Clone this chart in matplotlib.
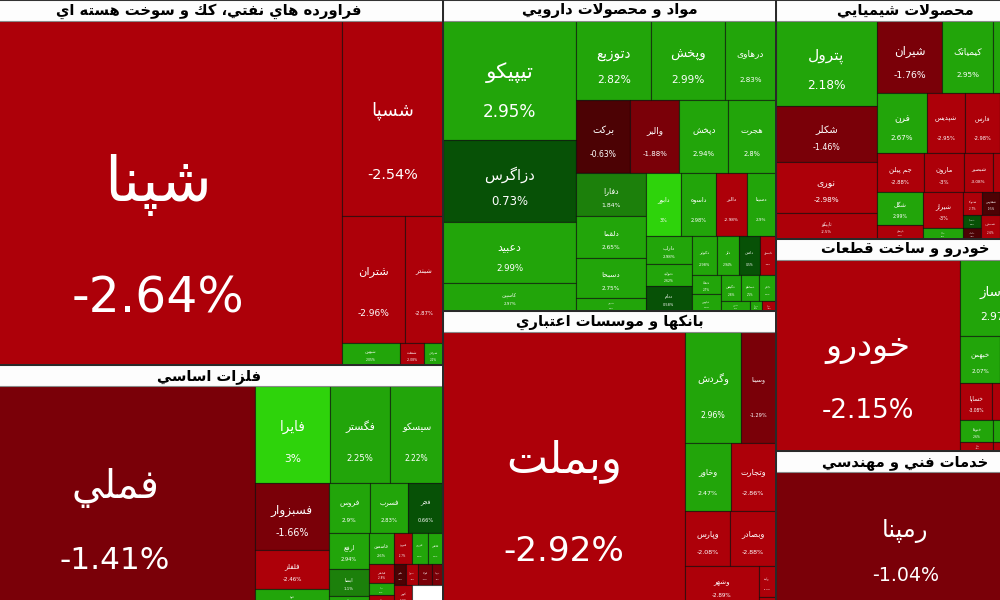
import matplotlib
matplotlib.use("Agg")
import matplotlib.pyplot as plt
from matplotlib.patches import Rectangle

# ---- data: one block per sector (names, size weights, % change, nesting of the tiles)
oil_title = 'فراورده هاي نفتي، كك و سوخت هسته اي'
oil_names = ['شپنا', 'شسپا', 'شتران', 'شبندر', 'شبهرن', 'شنفت', 'شرانل']
oil_sizes = [125.9, 19.7, 8.0, 4.83, 1.28, 0.53, 0.42]
oil_change = [-2.64, -2.54, -2.96, -2.87, 2.05, -2.08, 2.10]
oil_tree = ('h', [0, ('v', [1, ('h', [2, 3]), ('h', [4, 5, 6])])])

metal_title = 'فلزات اساسي'
metal_names = ['فملي', 'فايرا', 'فگستر', 'سیسکو', 'فسبزوار', 'فلفلز', 'فوبا', 'فروس',
               'فسرب', 'فجر', 'ارفع', 'ابسا', 'فنوال', 'فاسمین', 'فنورد', 'فزرین',
               'فخاس', 'فباهنر', 'فپنتا', 'فکا', 'فلامی', 'فجهان', 'فولاد', 'فتوسا',
               'کویر', '']
metal_sizes = [61.3, 7.2, 5.76, 5.09, 4.96, 2.89, 1.26, 2.05, 1.9, 1.75, 1.44, 1.08, 0.4,
               0.78, 0.56, 0.5, 0.47, 0.48, 0.3, 0.275, 0.25, 0.25, 0.29, 0.23, 0.38, 0.65]
metal_change = [-1.41, 3.0, 2.25, 2.22, -1.66, -2.46, 2.1, 2.9, 2.83, 0.66, 2.94, 1.1, 2.4,
                2.6, -2.7, 2.5, 2.3, -2.8, 2.2, -2.9, -0.5, -2.6, -1.5, -1.4, -2.9, None]
metal_tree = ('h', [0, ('v', [('h', [1, 2, 3]),
                              ('h', [('v', [4, 5, 6]),
                                     ('v', [('h', [7, 8, 9]),
                                            ('h', [('v', [10, 11, 12]),
                                                   ('v', [('h', [13, 14, 15, 16]),
                                                          ('h', [('v', [17, 18, 19]),
                                                                 ('v', [('h', [20, 21, 22, 23]),
                                                                        ('h', [24, 25])])])])])])])])])

pharma_title = 'مواد و محصولات دارويي'
pharma_names = ['تیپیکو', 'دزاگرس', 'دعبید', 'کاسپین', 'دتوزیع', 'وپخش', 'درهاوی', 'برکت',
                'والبر', 'دپخش', 'هجرت', 'دفارا', 'دلقما', 'دسبحا', 'دشیمی', 'دابور', 'داسوه',
                'دالبر', 'دسینا', 'داراب', 'دتولید', 'ددام', 'دکوثر', 'دلر', 'دامین', 'دکپسول',
                'دتماد', 'دپارس', 'دکیمی', 'دسانکو', 'دجابر', 'دشیری', 'دیران', 'دفرا']
pharma_sizes = [15.8, 10.9, 8.1, 3.7, 5.9, 5.8, 3.95, 3.92, 3.58, 3.58, 3.43, 3.04, 2.86, 2.83,
                0.9, 2.2, 2.24, 1.92, 1.83, 1.29, 1.01, 1.15, 0.96, 0.86, 0.82, 0.59, 0.574,
                0.488, 0.54, 0.486, 0.432, 0.29, 0.12, 0.13]
pharma_change = [2.95, 0.73, 2.99, 2.97, 2.82, 2.99, 2.83, -0.63, -1.88, 2.94, 2.80, 1.84, 2.65,
                 2.75, 2.5, 3.0, 2.98, -2.98, 2.9, 2.98, 2.62, 0.58, 2.98, 2.94, 0.5, -2.9, 2.7,
                 2.6, 2.8, 2.5, 2.9, 2.4, 2.2, -2.5]
pharma_tree = ('h', [('v', [0, 1, 2, 3]),
                     ('v', [('h', [4, 5, 6]),
                            ('h', [7, 8, 9, 10]),
                            ('h', [('v', [11, 12, 13, 14]),
                                   ('v', [('h', [15, 16, 17, 18]),
                                          ('h', [('v', [19, 20, 21]),
                                                 ('v', [('h', [22, 23, 24, 25]),
                                                        ('h', [('v', [26, 27]),
                                                               ('v', [('h', [28, 29, 30]),
                                                                      ('h', [31, 32, 33])])])])])])])])])

bank_title = 'بانكها و موسسات اعتباري'
bank_names = ['وبملت', 'وگردش', 'وسینا', 'وخاور', 'وتجارت', 'وپارس', 'وبصادر', 'وشهر', 'وآیند', 'وپست']
bank_sizes = [66.1, 6.08, 3.85, 3.08, 3.06, 2.48, 2.48, 2.92, 0.53, 0.15]
bank_change = [-2.92, 2.96, -1.29, 2.47, -2.86, -2.08, -2.88, -2.89, -2.9, -2.5]
bank_tree = ('h', [0, ('v', [('h', [1, 2]), ('h', [3, 4]), ('h', [5, 6]), ('h', [7, ('v', [8, 9])])])])

chem_title = 'محصولات شيميايي'
chem_names = ['پترول', 'شکلر', 'نوری', 'تاپیکو', 'شیران', 'کیمیاتک', 'شخارک', 'فرن', 'شپدیس',
              'فارس', 'شغدیر', 'جم پیلن', 'مارون', 'شبصیر', 'شاراک', 'شگل', 'پارسان', 'شیراز',
              'ساینا', 'شتوکا', 'شفارس', 'شسینا', 'شلعاب', 'شصدف', 'شجم']
chem_sizes = [8.64, 5.59, 5.19, 2.64, 4.68, 3.67, 3.02, 3.0, 2.28, 2.1, 2.1, 1.79, 1.52, 1.1,
              1.6, 1.53, 0.65, 1.44, 0.44, 0.43, 0.41, 0.23, 0.2, 0.46, 1.65]
chem_change = [2.18, -1.46, -2.98, -2.5, -1.76, 2.95, 2.6, 2.67, -2.95, -2.98, -2.9, -2.88, -3.0,
               -3.08, -2.9, 2.99, -2.5, -3.0, 2.5, -2.7, -0.5, 0.5, -0.5, -2.6, -2.8]
chem_tree = ('h', [('v', [0, 1, 2, 3]),
                   ('v', [('h', [4, 5, 6]),
                          ('h', [7, 8, 9, 10]),
                          ('h', [11, 12, 13, 14]),
                          ('h', [('v', [15, 16]), ('v', [17, 18]),
                                 ('v', [('h', [19, 20]), ('h', [('v', [21, 22]), 23])]), 24])])])

auto_title = 'خودرو و ساخت قطعات'
auto_names = ['خودرو', 'خوساز', 'خبهمن', 'خاهن', 'خساپا', 'خپارس', 'ختوقا', 'خمحور', 'خکار', 'خشرق']
auto_sizes = [35.2, 5.7, 1.84, 1.61, 1.18, 1.59, 0.73, 0.92, 0.3, 0.38]
auto_change = [-2.15, 2.97, 2.07, 2.5, -3.08, -2.7, 2.6, 2.4, -2.9, -2.5]
auto_tree = ('h', [0, ('v', [1, ('h', [2, 3]), ('h', [4, 5]), ('h', [6, 7]), ('h', [8, 9])])])

eng_title = 'خدمات فني و مهندسي'
eng_names = ['رمپنا']
eng_sizes = [34.6]
eng_change = [-1.04]
eng_tree = 0

sectors = [
    (oil_title, oil_names, oil_sizes, oil_change, oil_tree),
    (metal_title, metal_names, metal_sizes, metal_change, metal_tree),
    (pharma_title, pharma_names, pharma_sizes, pharma_change, pharma_tree),
    (bank_title, bank_names, bank_sizes, bank_change, bank_tree),
    (chem_title, chem_names, chem_sizes, chem_change, chem_tree),
    (auto_title, auto_names, auto_sizes, auto_change, auto_tree),
    (eng_title, eng_names, eng_sizes, eng_change, eng_tree),
]
columns = [[0, 1], [2, 3], [4, 5, 6]]

# the map is wider/taller than the visible window (screenshot is a crop)
X0, X1, Y1 = -25.0, 1035.0, 606.0
HEADER = 21.0

# ---- minimal arabic/persian shaping (matplotlib has no text shaping)
FORMS = {
    'آ': 'ﺁﺂ', 'ا': 'ﺍﺎ', 'د': 'ﺩﺪ', 'ذ': 'ﺫﺬ', 'ر': 'ﺭﺮ', 'ز': 'ﺯﺰ',
    'ژ': 'ﮊﮋ', 'و': 'ﻭﻮ', 'ة': 'ﺓﺔ', 'ى': 'ﻯﻰ',
    'ب': 'ﺏﺐﺑﺒ', 'پ': 'ﭖﭗﭘﭙ', 'ت': 'ﺕﺖﺗﺘ', 'ث': 'ﺙﺚﺛﺜ', 'ج': 'ﺝﺞﺟﺠ',
    'چ': 'ﭺﭻﭼﭽ', 'ح': 'ﺡﺢﺣﺤ', 'خ': 'ﺥﺦﺧﺨ', 'س': 'ﺱﺲﺳﺴ', 'ش': 'ﺵﺶﺷﺸ',
    'ص': 'ﺹﺺﺻﺼ', 'ض': 'ﺽﺾﺿﻀ', 'ط': 'ﻁﻂﻃﻄ', 'ظ': 'ﻅﻆﻇﻈ', 'ع': 'ﻉﻊﻋﻌ',
    'غ': 'ﻍﻎﻏﻐ', 'ف': 'ﻑﻒﻓﻔ', 'ق': 'ﻕﻖﻗﻘ', 'ك': 'ﻙﻚﻛﻜ', 'ک': 'ﮎﮏﮐﮑ',
    'گ': 'ﮒﮓﮔﮕ', 'ل': 'ﻝﻞﻟﻠ', 'م': 'ﻡﻢﻣﻤ', 'ن': 'ﻥﻦﻧﻨ', 'ه': 'ﻩﻪﻫﻬ',
    'ي': 'ﻱﻲﻳﻴ', 'ی': 'ﯼﯽﯾﯿ',
}
LAM_ALEF = {'ا': 'ﻻﻼ', 'آ': 'ﻵﻶ'}


def fa(text):
    out = []
    prev = False
    i = 0
    while i < len(text):
        c = text[i]
        if c not in FORMS:
            out.append(c)
            prev = False
            i += 1
            continue
        if c == 'ل' and i + 1 < len(text) and text[i + 1] in LAM_ALEF:
            out.append(LAM_ALEF[text[i + 1]][1 if prev else 0])
            prev = False
            i += 2
            continue
        f = FORMS[c]
        nxt = text[i + 1] if i + 1 < len(text) else ''
        dual = len(f) == 4
        nxt_join = dual and nxt in FORMS
        if prev and nxt_join:
            g = f[3]
        elif prev:
            g = f[1]
        elif nxt_join:
            g = f[2]
        else:
            g = f[0]
        out.append(g)
        prev = dual
        i += 1
    return ''.join(reversed(out))


def color_of(c):
    if c is None:
        return 'white'
    if c >= 3:
        return '#2ED30B'
    if c >= 2:
        return '#22A50A'
    if c >= 1:
        return '#1C800B'
    if c >= 0:
        return '#075106'
    if c > -1:
        return '#4C0204'
    if c > -2:
        return '#7A0008'
    return '#AD0009'


def pct(c):
    return ('%.2f' % c).rstrip('0').rstrip('.') + '%'


def total(node, sizes):
    if isinstance(node, int):
        return sizes[node]
    return sum(total(k, sizes) for k in node[1])


def layout(node, sizes, x, y, w, h, out):
    if isinstance(node, int):
        out[node] = (x, y, w, h)
        return
    kind, kids = node
    s = total(node, sizes)
    for k in kids:
        t = total(k, sizes)
        if kind == 'h':
            dw = w * t / s
            layout(k, sizes, x, y, dw, h, out)
            x += dw
        else:
            dh = h * t / s
            layout(k, sizes, x, y, w, dh, out)
            y += dh


fig = plt.figure(figsize=(10, 6), dpi=100)
ax = fig.add_axes([0, 0, 1, 1])
ax.set_xlim(0, 1000)
ax.set_ylim(600, 0)
ax.axis('off')

# top level: columns of sectors, each sector has a header band
col_w = []
for col in columns:
    content = sum(total(sectors[i][4], sectors[i][2]) for i in col)
    col_w.append(content / (Y1 - HEADER * len(col)))
scale = (X1 - X0) / sum(col_w)

x = X0
for col, cw in zip(columns, col_w):
    w = cw * scale
    free = Y1 - HEADER * len(col)
    csum = sum(total(sectors[i][4], sectors[i][2]) for i in col)
    y = 0.0
    for i in col:
        title, names, sizes, change, tree = sectors[i]
        h = HEADER + free * total(tree, sizes) / csum
        cells = {}
        layout(tree, sizes, x, y + HEADER, w, h - HEADER, cells)
        for k, (cx, cy, cw_, ch) in cells.items():
            r = Rectangle((cx, cy), cw_, ch, facecolor=color_of(change[k]),
                          edgecolor=(0, 0, 0, 0.55), linewidth=0.8, zorder=1)
            ax.add_patch(r)
            if change[k] is None:
                continue
            fs = max(1.2, 0.102 * min(cw_, ch))
            ny = cy + 0.5 * ch - min(8.0, 0.08 * ch)
            for txt, ty, size in ((fa(names[k]), ny, fs * 1.27),
                                  (pct(change[k]), ny + 0.33 * ch, fs)):
                t = ax.text(cx + cw_ / 2, ty, txt, color='white', fontsize=size,
                            ha='center', va='center', family='DejaVu Sans', zorder=3)
                t.set_clip_path(r)
        ax.add_patch(Rectangle((x, y), w, HEADER, facecolor='#FDFDFD',
                               edgecolor='#8a8a8a', linewidth=0.8, zorder=4))
        ax.text(x + w / 2, y + HEADER / 2 + 0.5, fa(title), fontsize=10.6,
                fontweight='bold', color='black', ha='center', va='center',
                family='DejaVu Sans', zorder=5)
        ax.add_patch(Rectangle((x, y), w, h, fill=False, edgecolor='#2a2a2a',
                               linewidth=1.3, zorder=6))
        y += h
    x += w

fig.savefig('out.png', dpi=100)
